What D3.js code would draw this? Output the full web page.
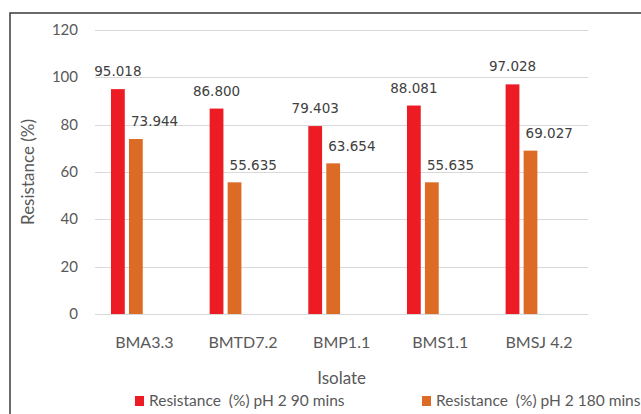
<!DOCTYPE html>
<html>
<head>
<meta charset="utf-8">
<script src="https://cdn.jsdelivr.net/npm/d3@7"></script>
<style>
	body { margin: 0; background: #fff; }
	svg { display: block; }
	.tick-label, .cat-label, .axis-title, .legend-text { font-family: Lato, "Open Sans", sans-serif; fill: #595959; }
	.value-label { font-family: "DejaVu Sans", sans-serif; fill: #404040; font-size: 13.5px; }
</style>
</head>
<body>
<svg width="641" height="414"></svg>
<script>
var isolates = ["BMA3.3", "BMTD7.2", "BMP1.1", "BMS1.1", "BMSJ 4.2"];
var seriesNames = ["Resistance  (%) pH 2 90 mins", "Resistance  (%) pH 2 180 mins"];
var res90 = [95.018, 86.800, 79.403, 88.081, 97.028];
var res180 = [73.944, 55.635, 63.654, 55.635, 69.027];
var yTicks = [0, 20, 40, 60, 80, 100, 120];
var colors = ["#ed1c24", "#dc6b26"];

var svg = d3.select("svg");

var margin = { top: 30, left: 95, right: 52.7, bottom: 100 },
	plotRight = 641 - margin.right,
	plotBottom = 414 - margin.bottom;

var xScale = d3.scaleBand()
	.domain(isolates)
	.range([margin.left, plotRight]);

var bw = xScale.bandwidth();

// excel leaves room for a third (empty) series, so the pair sits left of centre
var xSub = d3.scaleBand()
	.domain([0, 1])
	.range([bw * 0.162, bw * 0.484])
	.paddingInner(0.233);

var yScale = d3.scaleLinear()
	.domain([0, 120])
	.range([plotBottom, margin.top]);

// outer chart border (runs off the right and bottom edges)
svg.append("rect")
	.attr("x", 10)
	.attr("y", 13)
	.attr("width", 700)
	.attr("height", 500)
	.attr("fill", "none")
	.attr("stroke", "#3a3a3a")
	.attr("stroke-width", 1.5);

// gridlines
svg.append("g")
	.selectAll("line")
	.data(yTicks)
	.enter().append("line")
		.attr("x1", margin.left)
		.attr("x2", plotRight)
		.attr("y1", function (d) { return Math.round(yScale(d)) + 0.5; })
		.attr("y2", function (d) { return Math.round(yScale(d)) + 0.5; })
		.attr("stroke", "#d9d9d9")
		.attr("stroke-width", 1.2);

svg.append("g")
	.selectAll("text")
	.data(yTicks)
	.enter().append("text")
		.attr("class", "tick-label")
		.attr("x", 78)
		.attr("y", function (d) { return yScale(d) + 5; })
		.style("font-size", "15px")
		.style("text-anchor", "end")
		.text(function (d) { return d; });

var rows = isolates.map(function (name, i) {
	return { name: name, values: [res90[i], res180[i]] };
});

var groups = svg.append("g")
	.selectAll("g")
	.data(rows)
	.enter().append("g")
		.attr("transform", function (d) { return "translate(" + xScale(d.name) + ",0)"; });

groups.selectAll("rect")
	.data(function (d) { return d.values; })
	.enter().append("rect")
		.attr("x", function (d, j) { return xSub(j); })
		.attr("width", xSub.bandwidth())
		.attr("y", function (d) { return yScale(d); })
		.attr("height", function (d) { return plotBottom - yScale(d); })
		.attr("fill", function (d, j) { return colors[j]; });

groups.selectAll("text.value-label")
	.data(function (d) { return d.values; })
	.enter().append("text")
		.attr("class", "value-label")
		.attr("x", function (d, j) { return j == 0 ? xSub(j) + xSub.bandwidth() / 2 : xSub(j) + 2; })
		.attr("y", function (d, j) { return yScale(d) - (j == 0 ? 13 : 12.5); })
		.style("text-anchor", function (d, j) { return j == 0 ? "middle" : "start"; })
		.text(function (d) { return d.toFixed(3); });

// category labels
svg.append("g")
	.selectAll("text")
	.data(isolates)
	.enter().append("text")
		.attr("class", "cat-label")
		.attr("x", function (d) { return xScale(d) + bw / 2; })
		.attr("y", 348)
		.style("font-size", "16px")
		.style("text-anchor", "middle")
		.text(function (d) { return d; });

svg.append("text")
	.attr("class", "axis-title")
	.attr("x", (margin.left + plotRight) / 2)
	.attr("y", 384)
	.style("font-size", "17px")
	.style("text-anchor", "middle")
	.text("Isolate");

svg.append("text")
	.attr("class", "axis-title")
	.attr("transform", "translate(34," + (margin.top + plotBottom) / 2 + ") rotate(-90)")
	.style("font-size", "17px")
	.style("text-anchor", "middle")
	.text("Resistance (%)");

// legend
var legendX = [135, 422];
var legend = svg.append("g")
	.selectAll("g")
	.data(seriesNames)
	.enter().append("g")
		.attr("transform", function (d, i) { return "translate(" + legendX[i] + ",396)"; });

legend.append("rect")
	.attr("width", 9)
	.attr("height", 10)
	.attr("fill", function (d, i) { return colors[i]; });

legend.append("text")
	.attr("class", "legend-text")
	.attr("x", 14)
	.attr("y", 10)
	.style("font-size", "15.5px")
	.style("white-space", "pre")
	.text(function (d) { return d; });
</script>
</body>
</html>
